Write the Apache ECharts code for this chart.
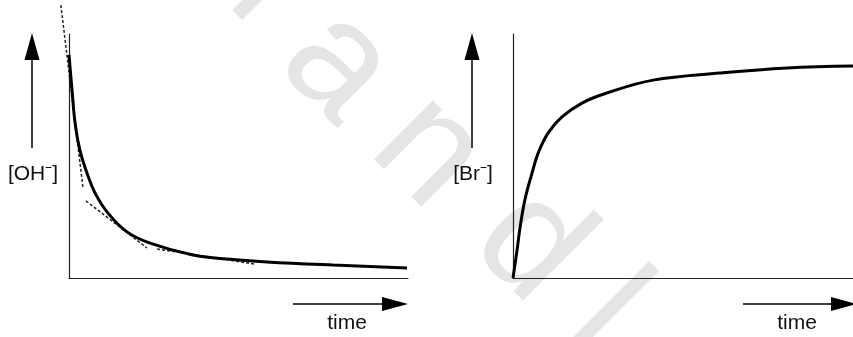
<!DOCTYPE html>
<html>
<head>
<meta charset="utf-8">
<script src="https://cdn.jsdelivr.net/npm/echarts@6/dist/echarts.min.js"></script>
<style>
  html, body { margin: 0; padding: 0; background: #fff; }
  #chart { width: 853px; height: 337px; }
</style>
</head>
<body>
<div id="chart"></div>
<script>
// [OH-] falls with time
var ohTime = [0, 0.09, 0.18, 0.32, 0.53, 0.77, 1.15, 1.71, 2.39, 3.66, 4.66, 5.84, 7.79, 9.97];
var ohConc = [9.14, 7.70, 6.35, 5.25, 4.30, 3.48, 2.66, 1.89, 1.43, 0.94, 0.78, 0.66, 0.53, 0.41];
// dashed tangents drawn on the [OH-] curve
var tangent1 = [[-0.24, 11.19], [0.41, 3.73]];
var tangent2 = [[0.50, 3.16], [2.30, 1.23]];
var tangent3 = [[2.60, 1.19], [5.49, 0.57]];
// [Br-] rises with time
var brTime = [0, 0.12, 0.21, 0.35, 0.56, 0.74, 1.03, 1.44, 2.03, 2.76, 4.12, 6.09, 8.06, 10];
var brConc = [0, 1.15, 2.09, 3.20, 4.30, 5.12, 5.94, 6.60, 7.17, 7.58, 8.11, 8.40, 8.61, 8.69];

var yLabels = ['[OH⁻]', '[Br⁻]'];
var xLabel = 'time';

var myChart = echarts.init(document.getElementById('chart'));

function pairs(xs, ys) {
  var out = [];
  for (var i = 0; i < xs.length; i++) out.push([xs[i], ys[i]]);
  return out;
}

function axis(idx, min, max, hidden) {
  return {
    type: 'value', gridIndex: idx, min: min, max: max, show: !hidden,
    axisLine: { show: true, onZero: false, lineStyle: { color: '#222', width: 1.2 } },
    axisTick: { show: false },
    axisLabel: { show: false },
    splitLine: { show: false }
  };
}

// tangents go on a hidden grid with the same scale as the left one,
// only wider, so the first one can run past the axes
function dashed(data) {
  return {
    type: 'line', xAxisIndex: 2, yAxisIndex: 2, data: data,
    symbol: 'none', silent: true, z: 1,
    lineStyle: { color: '#222', width: 1.5, type: [3, 2] }
  };
}

// arrows and labels
var font = '"Liberation Sans", Arial, sans-serif';
function upArrow(x) {
  return [
    { type: 'line', shape: { x1: x, y1: 58, x2: x, y2: 148 }, style: { stroke: '#000', lineWidth: 1.5 } },
    { type: 'polygon', shape: { points: [[x - 7.5, 60], [x, 33], [x + 7.5, 60]] }, style: { fill: '#000' } }
  ];
}
function rightArrow(x0, x1) {
  return [
    { type: 'line', shape: { x1: x0, y1: 304, x2: x1 - 24, y2: 304 }, style: { stroke: '#000', lineWidth: 1.5 } },
    { type: 'polygon', shape: { points: [[x1 - 26, 297], [x1, 304], [x1 - 26, 311]] }, style: { fill: '#000' } }
  ];
}
function label(x, y, t) {
  return { type: 'text', x: x, y: y, style: { text: t, fontSize: 21, fontFamily: font, fill: '#111', align: 'center', verticalAlign: 'middle' } };
}
// faint watermark letters
var wm = [['l', 268, -16], ['a', 337, 66], ['n', 428, 152], ['d', 530, 246], ['l', 604, 316]];
var wmEls = wm.map(function (w) {
  return { type: 'text', x: w[1], y: w[2], rotation: -Math.PI / 4, z: -10,
    style: { text: w[0], fontSize: 158, fontFamily: font, fill: '#e5e5e5', align: 'center', verticalAlign: 'middle' } };
});

var option = {
  backgroundColor: '#fff',
  animation: false,
  grid: [
    { left: 69, top: 34, width: 339, height: 244 },
    { left: 513, top: 34, width: 340, height: 244 },
    { left: 52.05, top: 0, width: 355.95, height: 278 }
  ],
  xAxis: [axis(0, 0, 10), axis(1, 0, 10), axis(2, -0.5, 10, true)],
  yAxis: [axis(0, 0, 10), axis(1, 0, 10), axis(2, 0, 11.4, true)],
  graphic: wmEls
    .concat(upArrow(32), rightArrow(293, 408), upArrow(472), rightArrow(743, 857))
    .concat([label(33, 174, yLabels[0]), label(473, 174, yLabels[1]), label(347, 323, xLabel), label(797, 323, xLabel)]),
  series: [
    dashed(tangent1), dashed(tangent2), dashed(tangent3),
    {
      type: 'line', xAxisIndex: 0, yAxisIndex: 0, data: pairs(ohTime, ohConc),
      symbol: 'none', smooth: 0.4, z: 2,
      lineStyle: { color: '#000', width: 3 }
    },
    {
      type: 'line', xAxisIndex: 1, yAxisIndex: 1, data: pairs(brTime, brConc),
      symbol: 'none', smooth: 0.4,
      lineStyle: { color: '#000', width: 3 }
    }
  ]
};
myChart.setOption(option);
</script>
</body>
</html>
